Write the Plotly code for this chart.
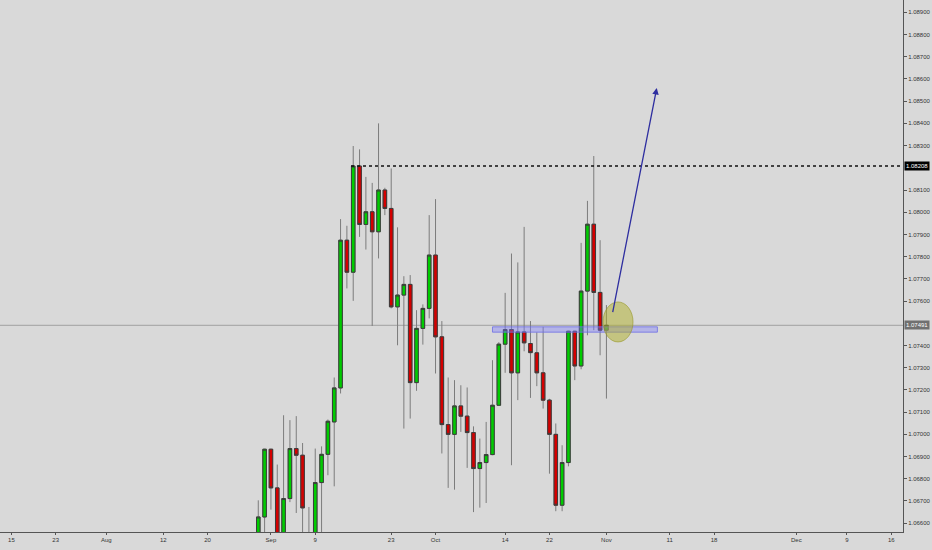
import pandas as pd
import plotly.graph_objects as go

# ---- data (EURUSD-like daily candles) ----
dates = ["2019-08-29","2019-08-30","2019-09-01","2019-09-02","2019-09-03","2019-09-04",
         "2019-09-05","2019-09-06","2019-09-08","2019-09-09","2019-09-10","2019-09-11",
         "2019-09-12","2019-09-13","2019-09-15","2019-09-16","2019-09-17","2019-09-18",
         "2019-09-19","2019-09-20","2019-09-22","2019-09-23","2019-09-24","2019-09-25",
         "2019-09-26","2019-09-27","2019-09-29","2019-09-30","2019-10-01","2019-10-02",
         "2019-10-03","2019-10-04","2019-10-06","2019-10-07","2019-10-08","2019-10-09",
         "2019-10-10","2019-10-11","2019-10-13","2019-10-14","2019-10-15","2019-10-16",
         "2019-10-17","2019-10-18","2019-10-20","2019-10-21","2019-10-22","2019-10-23",
         "2019-10-24","2019-10-25","2019-10-27","2019-10-28","2019-10-29","2019-10-30",
         "2019-10-31","2019-11-01"]
open_ = [1.06540,1.06628,1.06933,1.06759,1.06530,1.06711,1.06936,1.06906,1.06545,1.06540,
         1.06783,1.06910,1.07056,1.07209,1.07874,1.07730,1.08208,1.07945,1.08002,1.07912,
         1.08100,1.08017,1.07574,1.07627,1.07675,1.07233,1.07477,1.07567,1.07807,1.07439,
         1.07044,1.07000,1.07128,1.07082,1.07008,1.06846,1.06873,1.06909,1.07131,1.07406,
         1.07472,1.07277,1.07461,1.07409,1.07367,1.07277,1.07154,1.07000,1.06681,1.06873,
         1.07464,1.07308,1.07645,1.07946,1.07639,1.07469]
high = [1.06703,1.06935,1.06935,1.06864,1.07086,1.07064,1.07082,1.06961,1.06673,1.06936,
        1.06946,1.07067,1.07256,1.07969,1.07939,1.08298,1.08283,1.08159,1.08132,1.08400,
        1.08110,1.08197,1.07932,1.07712,1.07717,1.07559,1.07585,1.07987,1.08059,1.07510,
        1.07256,1.07244,1.07221,1.07211,1.07036,1.06981,1.07056,1.07334,1.07415,1.07637,
        1.07814,1.07774,1.07934,1.07510,1.07459,1.07484,1.07160,1.07049,1.06951,1.07466,
        1.07466,1.07862,1.08051,1.08253,1.07874,1.07582]
low = [1.06500,1.06540,1.06661,1.06500,1.06500,1.06695,1.06646,1.06540,1.06520,1.06520,
       1.06550,1.06816,1.06766,1.07184,1.07657,1.07601,1.07889,1.07832,1.07488,1.07792,
       1.07987,1.07567,1.07401,1.07026,1.07071,1.07196,1.07404,1.07522,1.07274,1.06914,
       1.06759,1.06751,1.07011,1.06849,1.06650,1.06670,1.06691,1.06906,1.07131,1.07277,
       1.06861,1.07154,1.07374,1.07164,1.07217,1.07116,1.06823,1.06654,1.06654,1.06856,
       1.07244,1.07293,1.07446,1.07469,1.07356,1.07161]
close = [1.06628,1.06933,1.06759,1.06520,1.06711,1.06936,1.06906,1.06669,1.06535,1.06783,
         1.06910,1.07059,1.07209,1.07874,1.07730,1.08208,1.07945,1.08002,1.07912,1.08100,
         1.08017,1.07574,1.07627,1.07675,1.07233,1.07477,1.07567,1.07807,1.07439,1.07044,
         1.07000,1.07128,1.07082,1.07008,1.06846,1.06873,1.06909,1.07131,1.07406,1.07472,
         1.07277,1.07461,1.07412,1.07368,1.07277,1.07154,1.07000,1.06681,1.06873,1.07464,
         1.07308,1.07645,1.07946,1.07639,1.07469,1.07491]

x_tick_dates = ["2019-07-15","2019-07-23","2019-08-01","2019-08-12","2019-08-20","2019-09-01",
                "2019-09-09","2019-09-23","2019-10-01","2019-10-14","2019-10-22","2019-11-01",
                "2019-11-11","2019-11-18","2019-12-01","2019-12-09","2019-12-16"]
x_tick_labels = ["15","23","Aug","12","20","Sep","9","23","Oct","14","22","Nov",
                 "11","18","Dec","9","16"]
y_ticks = [1.066,1.067,1.068,1.069,1.070,1.071,1.072,1.073,1.074,1.076,1.077,1.078,
           1.079,1.080,1.081,1.083,1.084,1.085,1.086,1.087,1.088,1.089]

resistance_level = 1.08208
resistance_from = "2019-09-16"
last_price = 1.07491
zone_from, zone_to = "2019-10-11", "2019-11-09"
zone_low, zone_high = 1.07460, 1.07484
arrow_from_date, arrow_from_price = "2019-11-02", 1.07544
arrow_to_date, arrow_to_price = "2019-11-09", 1.08559
circle_date, circle_price = "2019-11-03", 1.07506

# ---- axis calendar: history has Sun-Fri bars, future area uses calendar days ----
hist_days = [d for d in pd.date_range("2019-07-14", "2019-11-01") if d.dayofweek != 5]
future_days = list(pd.date_range("2019-11-02", "2019-12-25"))
pos = {d.strftime("%Y-%m-%d"): i for i, d in enumerate(hist_days + future_days)}

xs = [pos[d] for d in dates]
body_top = [max(o, c) for o, c in zip(open_, close)]
body_bot = [min(o, c) for o, c in zip(open_, close)]
BG = "#d9d9d9"
UP, DOWN = "#00cc00", "#d40000"

fig = go.Figure()
# wicks (gray)
fig.add_trace(go.Candlestick(
    x=xs, open=open_, high=high, low=low, close=close,
    increasing=dict(fillcolor=UP, line=dict(color="#7c7c7c", width=1)),
    decreasing=dict(fillcolor=DOWN, line=dict(color="#7c7c7c", width=1)),
    whiskerwidth=0, showlegend=False, hoverinfo="skip"))
# bodies with dark border
fig.add_trace(go.Candlestick(
    x=xs, open=open_, high=body_top, low=body_bot, close=close,
    increasing=dict(fillcolor=UP, line=dict(color="#3c3c3c", width=1)),
    decreasing=dict(fillcolor=DOWN, line=dict(color="#3c3c3c", width=1)),
    whiskerwidth=0, showlegend=False, hoverinfo="skip"))

x_left = pos["2019-07-15"] - 1.8
x_right = x_left + 142.65

# current price line
fig.add_shape(type="line", xref="paper", x0=0, x1=1, yref="y", y0=last_price, y1=last_price,
              line=dict(color="#a0a0a0", width=1), layer="below")
# resistance dotted line
fig.add_shape(type="line", xref="x", x0=pos[resistance_from] - 0.35, x1=x_right,
              yref="y", y0=resistance_level, y1=resistance_level,
              line=dict(color="#111111", width=1.5, dash="dot"))
# support zone rectangle
fig.add_shape(type="rect", x0=pos[zone_from], x1=pos[zone_to] + 0.05,
              y0=zone_low, y1=zone_high,
              fillcolor="rgba(120,120,255,0.38)", line=dict(color="rgba(110,110,230,0.8)", width=1))
# ellipse
cx = pos[circle_date] - 0.17
fig.add_shape(type="circle", x0=cx - 2.37, x1=cx + 2.37,
              y0=circle_price - 0.0009, y1=circle_price + 0.0009,
              fillcolor="rgba(175,175,40,0.5)", line=dict(color="rgba(150,150,40,0.6)", width=1))
# arrow
fig.add_annotation(x=pos[arrow_to_date] - 0.05, y=arrow_to_price,
                   ax=pos[arrow_from_date] - 0.05, ay=arrow_from_price,
                   xref="x", yref="y", axref="x", ayref="y", text="",
                   showarrow=True, arrowhead=2, arrowsize=1, arrowwidth=1.3,
                   arrowcolor="#2e2ea0")

# price labels on the axis
fig.add_annotation(xref="paper", x=1, xanchor="left", yref="y", y=resistance_level,
                   text="1.08208", showarrow=False, bgcolor="#000000",
                   font=dict(color="#ffffff", size=6, family="Liberation Sans"),
                   borderpad=1, xshift=1)
fig.add_annotation(xref="paper", x=1, xanchor="left", yref="y", y=last_price,
                   text="1.07491", showarrow=False, bgcolor="#707070",
                   font=dict(color="#ffffff", size=6, family="Liberation Sans"),
                   borderpad=1, xshift=1)

fig.update_layout(
    width=932, height=550,
    margin=dict(l=0, r=29, t=0, b=18, autoexpand=False),
    paper_bgcolor=BG, plot_bgcolor=BG,
    boxgap=0.2, boxmode="overlay",
    font=dict(family="Liberation Sans", size=6, color="#333333"),
    showlegend=False,
    xaxis=dict(range=[x_left, x_right], rangeslider=dict(visible=False),
               tickmode="array", tickvals=[pos[d] for d in x_tick_dates],
               ticktext=x_tick_labels, showgrid=False, zeroline=False,
               showline=True, linecolor="#555555", linewidth=1,
               ticks="outside", ticklen=2, tickcolor="#555555",
               tickfont=dict(size=6, color="#333333")),
    yaxis=dict(side="right", range=[1.065604, 1.089554],
               tickmode="array", tickvals=y_ticks, tickformat=".5f",
               showgrid=False, zeroline=False, showline=True,
               linecolor="#555555", linewidth=1, ticks="outside", ticklen=3,
               tickcolor="#555555", tickfont=dict(size=6, color="#333333")),
)

fig.write_html("out.html", config={"displayModeBar": False},
               post_script="document.body.style.margin='0';document.body.style.background='#d9d9d9';")
